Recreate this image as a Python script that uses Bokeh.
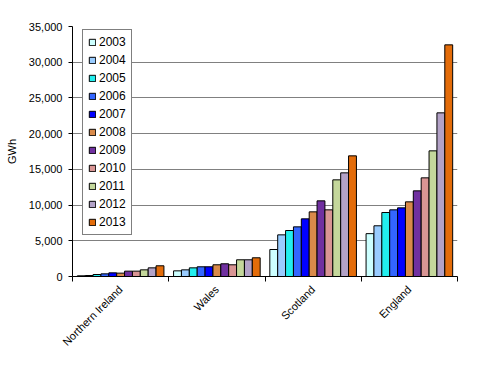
import numpy as np
from bokeh.plotting import figure
from bokeh.models import (ColumnDataSource, Range1d, FixedTicker, Legend, LegendItem,
                          NumeralTickFormatter)
from bokeh.transform import dodge
from bokeh.embed import file_html
from bokeh.resources import INLINE

regions = ["Northern Ireland", "Wales", "Scotland", "England"]
years = ["2003", "2004", "2005", "2006", "2007", "2008", "2009", "2010", "2011", "2012", "2013"]
v2003 = [100, 790, 3780, 6000]
v2004 = [140, 930, 5830, 7100]
v2005 = [280, 1210, 6440, 8960]
v2006 = [370, 1360, 6950, 9330]
v2007 = [510, 1360, 8070, 9610]
v2008 = [470, 1640, 9050, 10450]
v2009 = [750, 1780, 10590, 11990]
v2010 = [750, 1640, 9330, 13810]
v2011 = [930, 2340, 13530, 17590]
v2012 = [1210, 2340, 14510, 22910]
v2013 = [1500, 2620, 16890, 32430]
series = [v2003, v2004, v2005, v2006, v2007, v2008, v2009, v2010, v2011, v2012, v2013]
colors = ["#CCFFFF", "#99CCFF", "#22EEEE", "#3366FF", "#0000FF", "#D98A4A",
          "#7030A0", "#D99594", "#C4D79B", "#B3A2C7", "#E36C0A"]
y_ticks = [0, 5000, 10000, 15000, 20000, 25000, 30000, 35000]

FONT = "Liberation Sans"
n = len(regions)
centers = np.arange(n) + 0.5

src = {"x": centers}
for y, s in zip(years, series):
    src["y" + y] = s
source = ColumnDataSource(src)

p = figure(width=472, height=361, output_backend="svg", toolbar_location=None,
           x_range=Range1d(0, n), y_range=Range1d(0, 35000),
           min_border_left=72, min_border_right=15, min_border_top=26, min_border_bottom=85)
p.outline_line_color = None
p.background_fill_color = "white"
p.border_fill_color = "white"

bw = 0.0818
items = []
for i, (y, c) in enumerate(zip(years, colors)):
    r = p.vbar(x=dodge("x", (i - 5) * bw, range=p.x_range), top="y" + y, width=bw,
               source=source, fill_color=c, line_color="black", line_width=1)
    items.append(LegendItem(label=y, renderers=[r]))

legend = Legend(items=items, location=(10, 41), orientation="vertical")
legend.border_line_color = "black"
legend.border_line_width = 1
legend.background_fill_alpha = 1
legend.label_text_font = FONT
legend.label_text_font_size = "12px"
legend.label_text_color = "black"
legend.glyph_width = 8
legend.glyph_height = 8
legend.label_height = 14
legend.label_standoff = 3
legend.spacing = 4
legend.padding = 5
legend.margin = 0
p.add_layout(legend)

p.xgrid.grid_line_color = None
p.ygrid.grid_line_color = "#808080"
p.ygrid.grid_line_width = 1
p.ygrid.ticker = FixedTicker(ticks=y_ticks)

p.yaxis.ticker = FixedTicker(ticks=y_ticks)
p.yaxis.formatter = NumeralTickFormatter(format="0,0")
p.yaxis.axis_label = "GWh"
p.yaxis.axis_label_text_font = FONT
p.yaxis.axis_label_text_font_style = "normal"
p.yaxis.axis_label_text_font_size = "11px"
p.yaxis.axis_label_text_color = "black"
p.yaxis.axis_label_standoff = 8
p.yaxis.major_label_text_font = FONT
p.yaxis.major_label_text_font_size = "11px"
p.yaxis.major_label_text_color = "black"
p.yaxis.axis_line_color = "black"
p.yaxis.major_tick_line_color = "black"
p.yaxis.major_tick_out = 4
p.yaxis.major_tick_in = 0
p.yaxis.minor_tick_line_color = None
p.yaxis.major_label_standoff = 6

p.xaxis.ticker = FixedTicker(ticks=list(centers), minor_ticks=list(range(n + 1)))
p.xaxis.major_label_overrides = {float(c): r for c, r in zip(centers, regions)}
p.xaxis.major_label_orientation = np.pi / 4
p.xaxis.major_label_text_font = FONT
p.xaxis.major_label_text_font_size = "11px"
p.xaxis.major_label_text_color = "black"
p.xaxis.major_tick_line_color = None
p.xaxis.major_tick_out = 0
p.xaxis.major_tick_in = 0
p.xaxis.major_label_standoff = 6
p.xaxis.minor_tick_line_color = "black"
p.xaxis.minor_tick_out = 5
p.xaxis.minor_tick_in = 0
p.xaxis.axis_line_color = "black"

open("out.html", "w").write(file_html(p, INLINE))
